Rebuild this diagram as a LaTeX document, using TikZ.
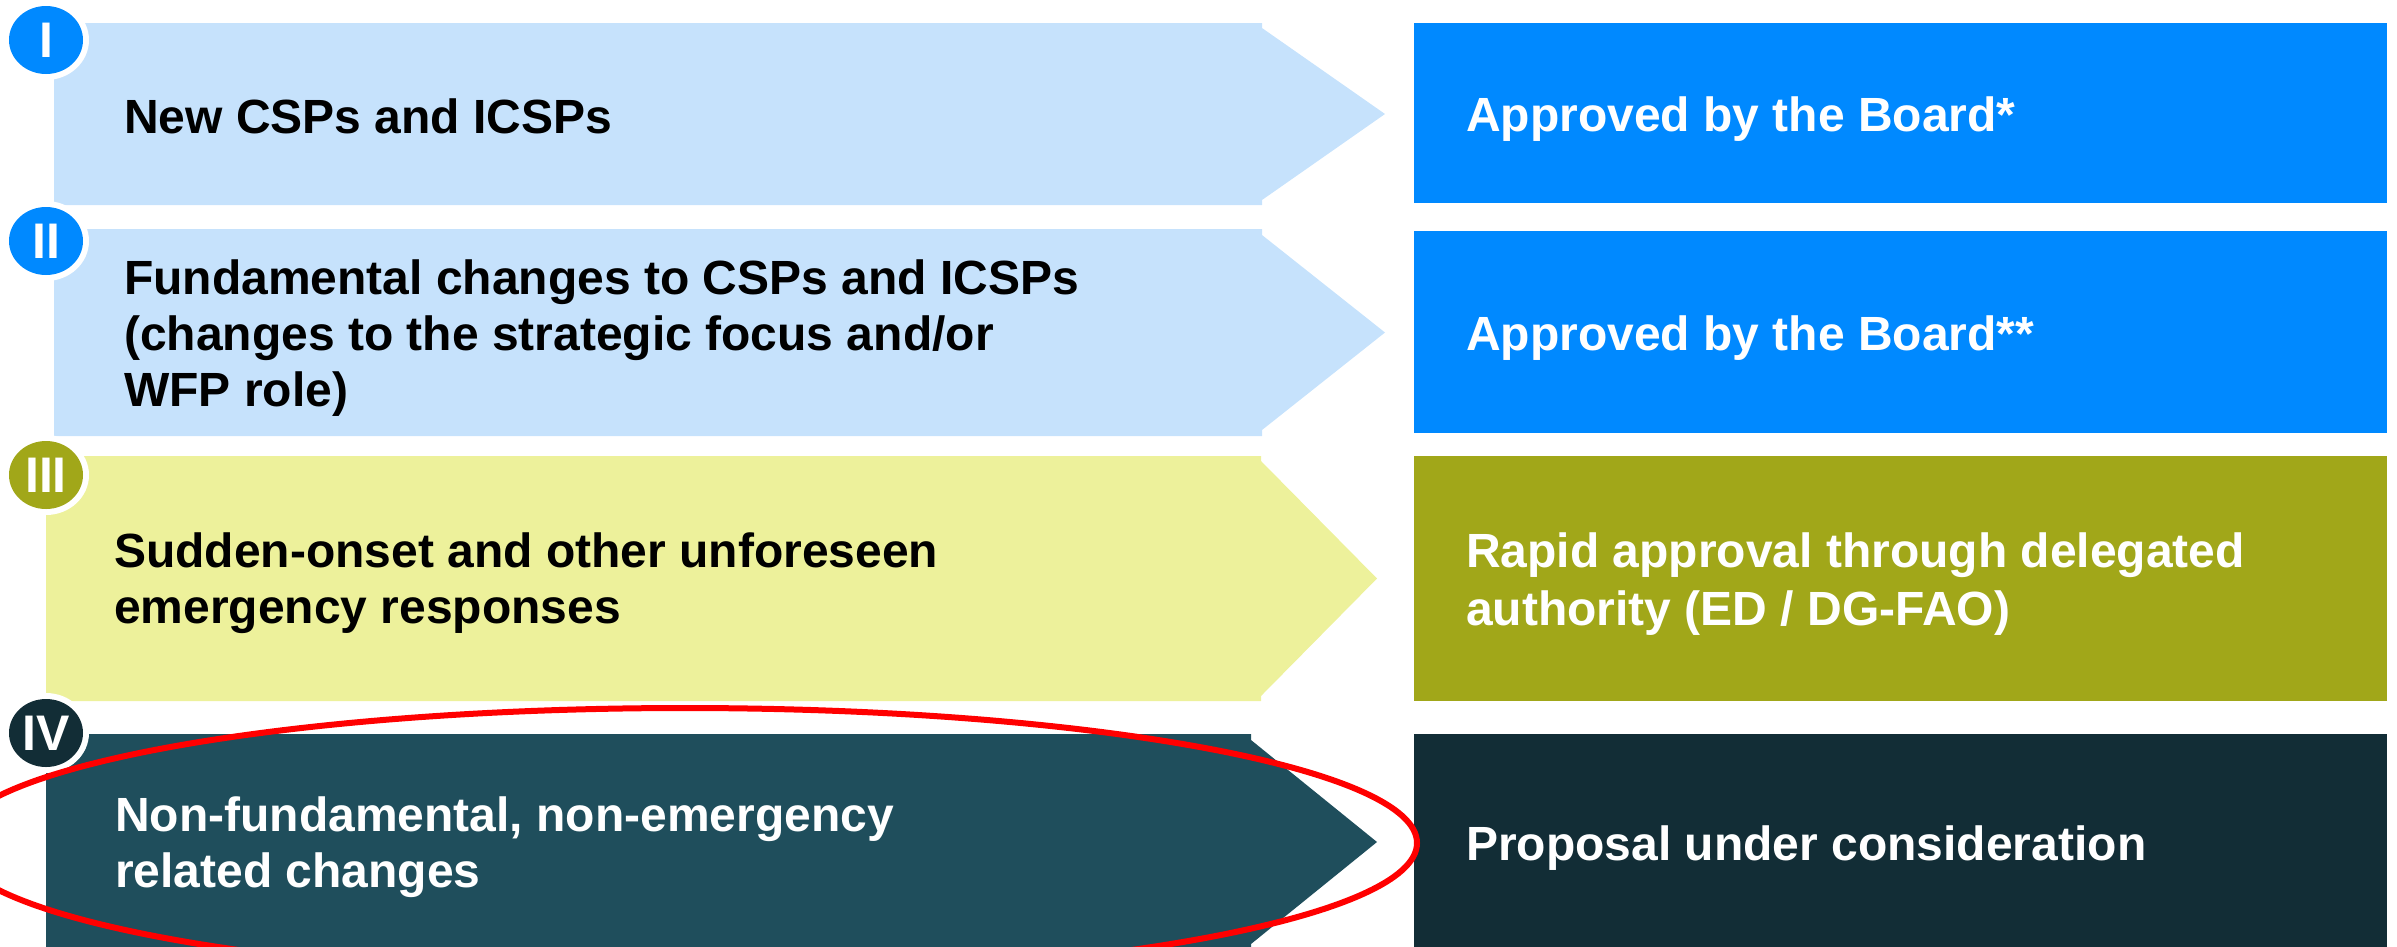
\documentclass[tikz,border=0pt]{standalone}
\usepackage{fontspec}
\setmainfont{Liberation Sans}
\definecolor{lightblue}{RGB}{198,226,252}
\definecolor{brightblue}{RGB}{0,137,255}
\definecolor{paleyellow}{RGB}{237,241,155}
\definecolor{olive}{RGB}{161,167,25}
\definecolor{tealband}{RGB}{31,78,92}
\definecolor{darkteal}{RGB}{18,45,54}
\begin{document}
\begin{tikzpicture}[x=1pt,y=-1pt,
  lefttext/.style={anchor=west,inner sep=0pt,align=left,text depth=0pt,
    font=\fontsize{48}{56}\selectfont\bfseries},
  righttext/.style={anchor=west,inner sep=0pt,align=left,text depth=0pt,
    text=white,font=\fontsize{48}{58}\selectfont\bfseries},
  numeral/.style={inner sep=0pt,text=white,font=\fontsize{50}{50}\selectfont\bfseries},
  badge/.style={fill=#1},
  halo/.style={fill=white},
  highlight/.style={draw=red,line width=6pt}
]
\useasboundingbox (0,0) rectangle (2397,946);
\clip (0,0) rectangle (2397,946);

% ---- category bands (chevrons) ----
\fill[lightblue] (54,23) -- (1262,23) -- (1262,28) -- (1385,114) -- (1262,200) -- (1262,205) -- (54,205) -- cycle;
\fill[lightblue] (54,229) -- (1262,229) -- (1262,235) -- (1385,332.5) -- (1262,430) -- (1262,436) -- (54,436) -- cycle;
\fill[paleyellow] (46,456) -- (1261,456) -- (1261,461) -- (1377,578.5) -- (1261,696) -- (1261,701) -- (46,701) -- cycle;
\fill[tealband] (46,734) -- (1251,734) -- (1251,740) -- (1377,842) -- (1251,944) -- (1251,950) -- (46,950) -- cycle;

% ---- approval boxes ----
\fill[brightblue] (1414,23) rectangle (2387,203);
\fill[brightblue] (1414,231) rectangle (2387,433);
\fill[olive] (1414,456) rectangle (2387,701);
\fill[darkteal] (1414,734) rectangle (2387,950);

% ---- numbered badges ----
\foreach \cy/\col in {40/brightblue,241/brightblue,475/olive,733/darkteal}{
  \fill[halo] (46,\cy) ellipse [x radius=43pt, y radius=40pt];
  \fill[badge=\col] (46,\cy) ellipse [x radius=37pt, y radius=34pt];
}
\node[numeral] (n1) at (46,40) {I};
\node[numeral] (n2) at (46,241) {II};
\node[numeral] (n3) at (46,475) {III};
\node[numeral] (n4) at (46,733) {IV};

% ---- category labels ----
\node[lefttext] (c1) at (124,116) {New CSPs and ICSPs};
\node[lefttext] (c2) at (124,333.5) {Fundamental changes to CSPs and ICSPs\\(changes to the strategic focus and/or\\WFP role)};
\node[lefttext] (c3) at (114,578.5) {Sudden-onset and other unforeseen\\emergency responses};
\node[lefttext,text=white] (c4) at (115,842.5) {Non-fundamental, non-emergency\\related changes};

% ---- approval labels ----
\node[righttext] (a1) at (1466,114.5) {Approved by the Board*};
\node[righttext] (a2) at (1466,333) {Approved by the Board**};
\node[righttext] (a3) at (1466,579.5) {Rapid approval through delegated\\authority (ED / DG-FAO)};
\node[righttext] (a4) at (1466,843.5) {Proposal under consideration};

% ---- highlight around category IV ----
\draw[highlight] (685,843) ellipse [x radius=732pt, y radius=135pt];
\end{tikzpicture}
\end{document}
